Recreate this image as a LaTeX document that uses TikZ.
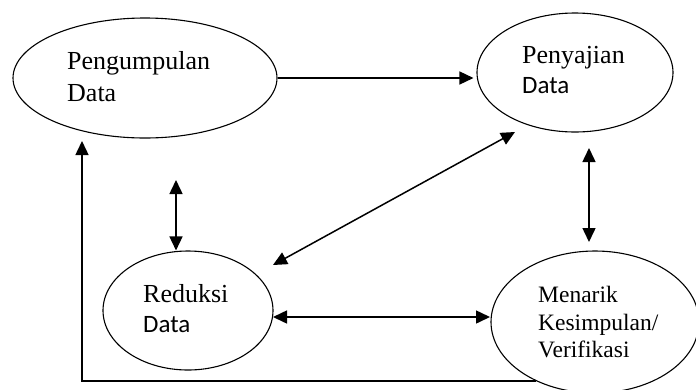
\documentclass[tikz,border=0pt]{standalone}
\usepackage{fontspec}
\setmainfont{Liberation Serif}
\newfontfamily\calfont{Carlito}
\usetikzlibrary{arrows.meta,shapes.geometric}
\tikzset{
  bubble/.style={draw, ellipse, inner sep=0pt, line width=1.1pt},
  txt/.style={anchor=base west, inner sep=0pt, font=\fontsize{26}{30}\selectfont},
  txtsm/.style={anchor=base west, inner sep=0pt, font=\fontsize{23.5}{28}\selectfont},
  txtcal/.style={anchor=base west, inner sep=0pt, font=\calfont\fontsize{25}{30}\selectfont},
  conn/.style={line width=1.5pt, -{Triangle[length=14pt,width=13pt]}},
  dconn/.style={line width=1.5pt, {Triangle[length=14pt,width=13pt]}-{Triangle[length=14pt,width=13pt]}}
}
\begin{document}
\begin{tikzpicture}[x=1pt,y=-1pt]
\useasboundingbox (0,0) rectangle (696,389);
\clip (0,0) rectangle (696,389);
% ellipses
\node[bubble, minimum width=264pt, minimum height=120pt] (peng) at (145,78) {};
\node[bubble, minimum width=196pt, minimum height=119pt] (peny) at (575,72.5) {};
\node[bubble, minimum width=170pt, minimum height=119pt] (red) at (188,310.5) {};
\node[bubble, minimum width=208pt, minimum height=142pt] (men) at (595,322) {};
% texts
\node[txt] (t1) at (67,69) {Pengumpulan};
\node[txt] (t2) at (67,101) {Data};
\node[txt] (t3) at (522,63) {Penyajian};
\node[txtcal] (t4) at (522,93) {Data};
\node[txt] (t5) at (143,302) {Reduksi};
\node[txtcal] (t6) at (143,332) {Data};
\node[txtsm] (t7) at (538,302) {Menarik};
\node[txtsm] (t8) at (538,330) {Kesimpulan/};
\node[txtsm] (t9) at (538,357) {Verifikasi};
% free ends
\coordinate (pa) at (176,180);
\coordinate (lt) at (82,141);
\coordinate (d1) at (515,132);
\coordinate (d2) at (273,265);
\coordinate (r1) at (589,148);
\coordinate (r2) at (589,242);
\coordinate (h1) at (273,317);
\coordinate (h2) at (490,317);
% connectors
\draw[conn] (peng.east) -- ([xshift=-3pt]peng.east -| peny.west);
\draw[dconn] (pa) -- (pa |- red.north);
\draw[dconn] (d1) -- (d2);
\draw[dconn] (r1) -- (r2);
\draw[dconn] (h1) -- (h2);
\draw[conn] (men.225) -| (lt);
\end{tikzpicture}
\end{document}
